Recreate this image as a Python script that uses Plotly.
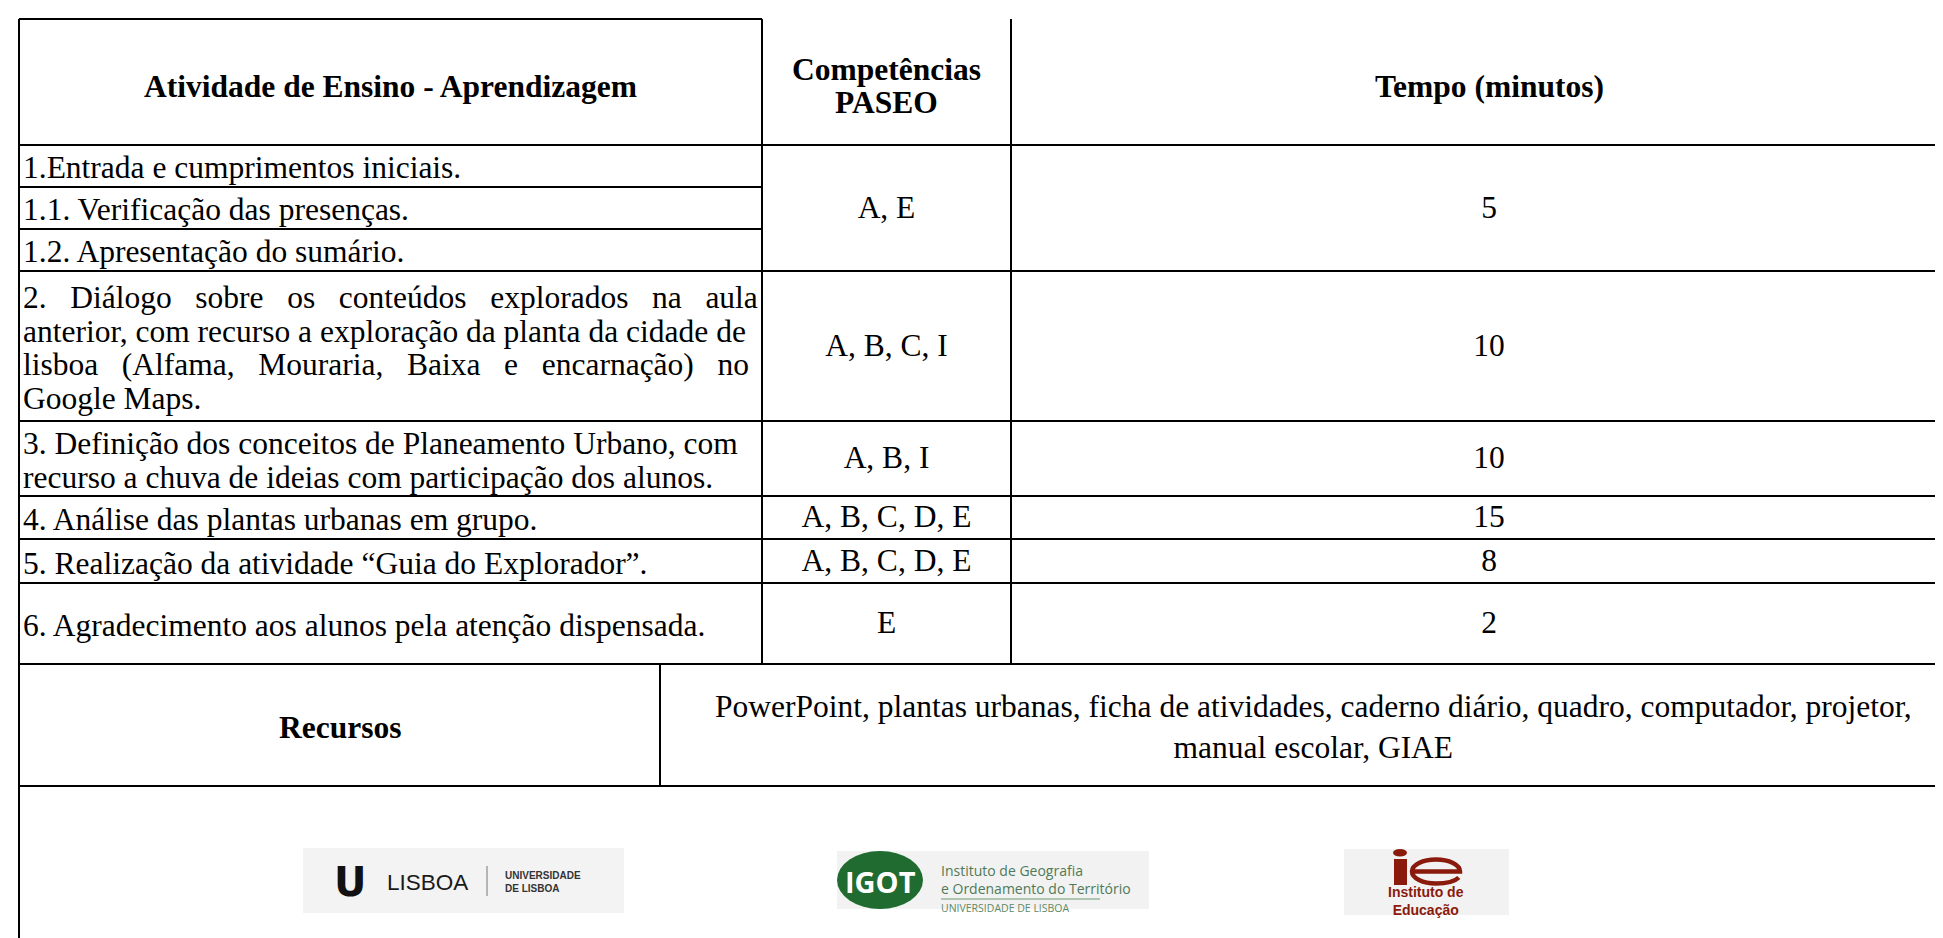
import plotly.graph_objects as go

# ---------------- data ----------------
header_activity = "Atividade de Ensino - Aprendizagem"
header_comp = ["Competências", "PASEO"]
header_time = "Tempo (minutos)"

activities = [
    ["1.Entrada e cumprimentos iniciais.", "1.1. Verificação das presenças.", "1.2. Apresentação do sumário."],
    ["2. Diálogo sobre os conteúdos explorados na aula",
     "anterior, com recurso a exploração da planta da cidade de",
     "lisboa (Alfama, Mouraria, Baixa e encarnação) no",
     "Google Maps."],
    ["3. Definição dos conceitos de Planeamento Urbano, com",
     "recurso a chuva de ideias com participação dos alunos."],
    ["4. Análise das plantas urbanas em grupo."],
    ["5. Realização da atividade “Guia do Explorador”."],
    ["6. Agradecimento aos alunos pela atenção dispensada."],
]
competencias = ["A, E", "A, B, C, I", "A, B, I", "A, B, C, D, E", "A, B, C, D, E", "E"]
tempo = [5, 10, 10, 15, 8, 2]

recursos_label = "Recursos"
recursos_text = ["PowerPoint, plantas urbanas, ficha de atividades, caderno diário, quadro, computador, projetor,",
                 "manual escolar, GIAE"]

# ---------------- layout constants (pixels) ----------------
W, H = 1943, 938
X_L, X_A, X_C, X_R, X_RES = 11, 754, 1003, 1959, 652
Y_TOP, Y_HEAD = 11, 137
Y_SUB = [179, 221]
ROW_BOTTOMS = [263, 413, 488, 531, 575, 656]
Y_RES = 778
LINE_H = 33.5
SERIF = "Liberation Serif, Times New Roman, serif"
SANS = "Liberation Sans, Arial, sans-serif"
OPEN = "Open Sans, Liberation Sans, sans-serif"
FS = 31.5
JUSTIFY = {(1, 0): 3, (1, 2): 3}  # extra spacing for justified lines
RED = "#8a1a0c"
GREEN = "#1f6b30"
GTEXT = "#4f7a58"

fig = go.Figure()

def hline(y, x0, x1, w=2, color="black"):
    fig.add_shape(type="line", xref="x", yref="y", x0=x0, x1=x1, y0=y, y1=y,
                  line=dict(color=color, width=w))

def vline(x, y0, y1, w=2, color="black"):
    fig.add_shape(type="line", xref="x", yref="y", x0=x, x1=x, y0=y0, y1=y1,
                  line=dict(color=color, width=w))

def text(x, y, s, size=FS, bold=False, anchor="center", color="black", family=SERIF, align="center"):
    if bold:
        s = "<b>" + s + "</b>"
    fig.add_annotation(x=x, y=y, xref="x", yref="y", text=s, showarrow=False,
                       xanchor=anchor, yanchor="middle", align=align,
                       font=dict(family=family, size=size, color=color))

# ---------------- grid ----------------
hline(Y_TOP, X_L, X_A)
hline(Y_HEAD, X_L, X_R)
for y in Y_SUB:
    hline(y, X_L, X_A)
for y in ROW_BOTTOMS:
    hline(y, X_L, X_R)
hline(Y_RES, X_L, X_R)
vline(X_L, Y_TOP, H)
vline(X_A, Y_TOP, ROW_BOTTOMS[-1])
vline(X_C, Y_TOP, ROW_BOTTOMS[-1])
vline(X_RES, ROW_BOTTOMS[-1], Y_RES)

# ---------------- header ----------------
hy = (Y_TOP + Y_HEAD) / 2 + 4
text((X_L + X_A) / 2, hy, header_activity, bold=True)
text((X_A + X_C) / 2, hy - LINE_H / 2, header_comp[0], bold=True)
text((X_A + X_C) / 2, hy + LINE_H / 2, header_comp[1], bold=True)
text((X_C + X_R) / 2, hy, header_time, bold=True)

# ---------------- body ----------------
tops = [Y_HEAD] + ROW_BOTTOMS[:-1]
row_centers = []
for i, lines in enumerate(activities):
    top, bot = tops[i], ROW_BOTTOMS[i]
    c = (top + bot) / 2 + 2
    row_centers.append(c)
    if i == 0:
        bounds = [top] + Y_SUB + [bot]
        ys = [(bounds[k] + bounds[k + 1]) / 2 + 1 for k in range(len(lines))]
    else:
        n = len(lines)
        ys = [c + (k - (n - 1) / 2) * LINE_H for k in range(n)]
    for k, (ln, y) in enumerate(zip(lines, ys)):
        if (i, k) in JUSTIFY:
            ln = ln.replace(" ", "\u00a0" * JUSTIFY[(i, k)])
        text(X_L + 2, y, ln, anchor="left")

fig.add_trace(go.Scatter(
    x=[(X_A + X_C) / 2] * len(competencias), y=row_centers, mode="text",
    text=competencias, textposition="middle center",
    textfont=dict(family=SERIF, size=FS, color="black"), hoverinfo="skip"))
fig.add_trace(go.Scatter(
    x=[(X_C + X_R) / 2] * len(tempo), y=row_centers, mode="text",
    text=[str(t) for t in tempo], textposition="middle center",
    textfont=dict(family=SERIF, size=FS, color="black"), hoverinfo="skip"))

# ---------------- recursos ----------------
ry = (ROW_BOTTOMS[-1] + Y_RES) / 2 + 2
text((X_L + X_RES) / 2, ry, recursos_label, bold=True)
text((X_RES + X_R) / 2, ry, "<br>".join(recursos_text))

# ---------------- logos ----------------
# Universidade de Lisboa
fig.add_shape(type="rect", x0=295, x1=616, y0=840, y1=905, fillcolor="#f3f3f3", line=dict(width=0))
text(342, 874, "<b>U</b>", size=40, family="DejaVu Sans, sans-serif", color="#111")
text(419, 874, "LISBOA", size=22.5, family=SANS, color="#1a1a1a")
vline(479, 858, 888, w=1, color="#777")
text(495, 873.5, "<b>UNIVERSIDADE<br>DE LISBOA</b>", size=10, anchor="left", align="left",
     family=SANS, color="#333")

# IGOT
fig.add_shape(type="rect", x0=829, x1=1141, y0=843, y1=901, fillcolor="#f2f2f2", line=dict(width=0))
fig.add_shape(type="circle", x0=829, x1=915, y0=843, y1=901, fillcolor=GREEN, line=dict(width=0))
text(872, 873, "<b>IGOT</b>", size=29, family=OPEN, color="white")
text(931, 880, "Instituto de Geografia<br>e Ordenamento do Território<br>"
               "<span style='font-size:10.5px;color:#5f8a66'>UNIVERSIDADE DE LISBOA</span>",
     size=14, anchor="left", align="left", family=OPEN, color=GTEXT)
hline(891, 933, 1092, w=1, color="#6f9a76")

# Instituto de Educação
fig.add_shape(type="rect", x0=1336, x1=1501, y0=841, y1=907, fillcolor="#f2f2f2", line=dict(width=0))
fig.add_shape(type="rect", x0=1386, x1=1399, y0=851, y1=877, fillcolor=RED, line=dict(width=0))
fig.add_shape(type="circle", x0=1385, x1=1399, y0=841, y1=848.5, fillcolor=RED, line=dict(width=0))
cx, cy, rx, ry_e, k = 1428, 863.5, 24, 12, 0.5523
e_path = (f"M {cx-rx},{cy} L {cx+rx},{cy} "
          f"C {cx+rx},{cy-k*ry_e} {cx+k*rx},{cy-ry_e} {cx},{cy-ry_e} "
          f"C {cx-k*rx},{cy-ry_e} {cx-rx},{cy-k*ry_e} {cx-rx},{cy} "
          f"C {cx-rx},{cy+k*ry_e} {cx-k*rx},{cy+ry_e} {cx},{cy+ry_e} "
          f"C {cx+0.45*rx},{cy+ry_e} {cx+0.8*rx},{cy+0.8*ry_e} {cx+0.95*rx},{cy+0.5*ry_e}")
fig.add_shape(type="path", path=e_path, line=dict(color=RED, width=4.5))
text(1418, 893, "<b>Instituto de</b><br><b>Educação</b>", size=14, family=SANS, color=RED)

fig.update_layout(
    width=W, height=H, margin=dict(l=0, r=0, t=0, b=0),
    paper_bgcolor="white", plot_bgcolor="white", showlegend=False,
    xaxis=dict(range=[0, W], visible=False, fixedrange=True),
    yaxis=dict(range=[H, 0], visible=False, fixedrange=True),
)
fig.write_html("out.html")
